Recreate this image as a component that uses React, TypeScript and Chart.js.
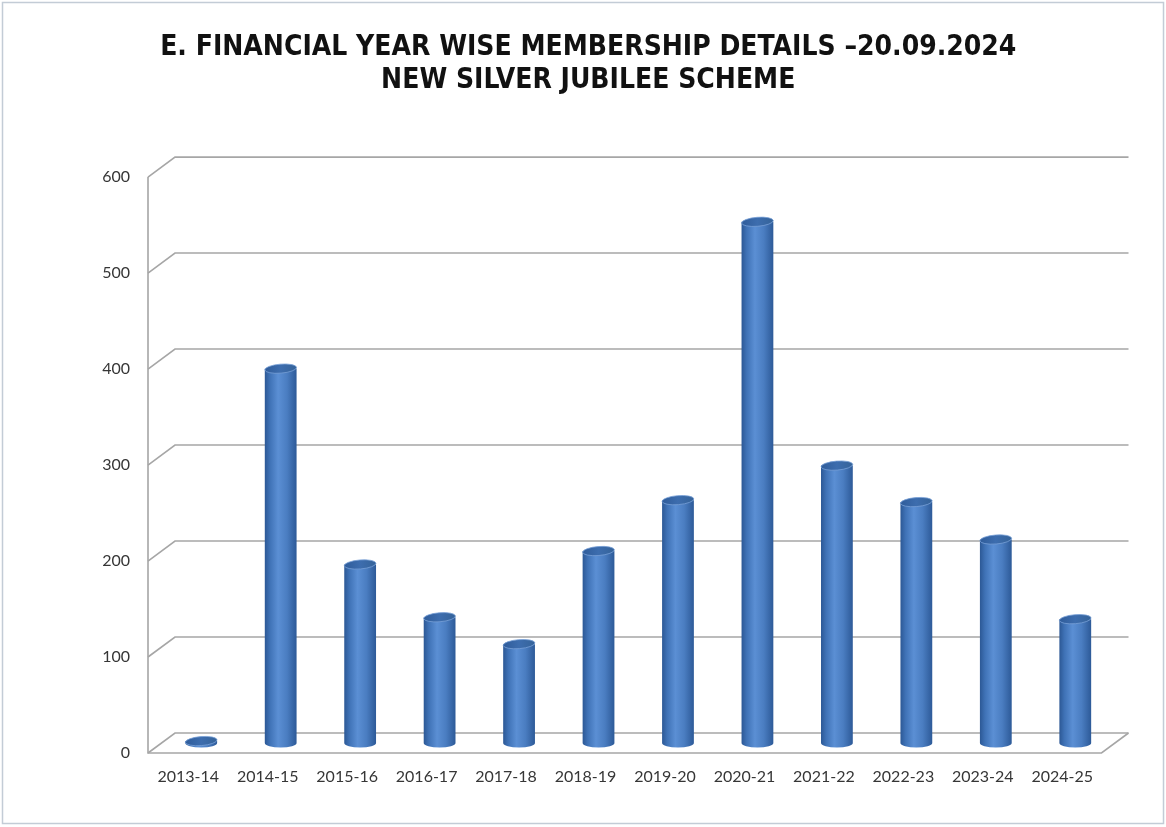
import React, { useEffect, useRef } from "react";
import { Chart, registerables } from "chart.js";

Chart.register(...registerables);

const categories = [
  "2013-14", "2014-15", "2015-16", "2016-17", "2017-18", "2018-19",
  "2019-20", "2020-21", "2021-22", "2022-23", "2023-24", "2024-25",
];
const members = [2, 390, 186, 131, 103, 200, 253, 543, 289, 251, 212, 129];
const yMin = 0;
const yMax = 600;
const yStep = 100;
const titleLines = [
  "E. FINANCIAL YEAR WISE MEMBERSHIP DETAILS \u201320.09.2024",
  "NEW SILVER JUBILEE SCHEME",
];

const DEPTH_X = 13.5;
const DEPTH_Y = 10;
const BAR_PCT = 0.8;
const CAT_PCT = 0.5;
const TICK_FONT = "Lato, 'Open Sans', sans-serif";
const TITLE_FONT = "'Liberation Sans Narrow', 'DejaVu Sans Condensed', 'Liberation Sans', sans-serif";

function barGradient(ctx: CanvasRenderingContext2D, x: number, width: number) {
  const g = ctx.createLinearGradient(x - width / 2, 0, x + width / 2, 0);
  g.addColorStop(0, "#2c5895");
  g.addColorStop(0.16, "#3f72b6");
  g.addColorStop(0.42, "#5b8fd4");
  g.addColorStop(0.7, "#4a7dc1");
  g.addColorStop(1, "#2d5a98");
  return g;
}

function scriptedFill(c: any) {
  const chart = c.chart;
  const xs = chart.scales && chart.scales.x;
  if (!xs || c.dataIndex === undefined) return "#4a7dc1";
  const x = xs.getPixelForValue(c.dataIndex);
  const w = (xs.width / categories.length) * BAR_PCT * CAT_PCT;
  if (!isFinite(x) || !isFinite(w) || w <= 0) return "#4a7dc1";
  return barGradient(chart.ctx, x, w);
}

const cylinderPlugin = {
  id: "cylinder3d",
  beforeDraw(chart: any) {
    const { ctx, width, height } = chart;
    ctx.save();
    ctx.fillStyle = "#ffffff";
    ctx.fillRect(0, 0, width, height);
    ctx.strokeStyle = "#c3ccd6";
    ctx.lineWidth = 1.5;
    ctx.strokeRect(2.5, 2.5, width - 5, height - 6);
    ctx.restore();
  },
  beforeDatasetsDraw(chart: any) {
    const { ctx, chartArea, scales } = chart;
    const y = scales.y;
    const { left, right } = chartArea;
    const fl = left - DEPTH_X;
    const bl = left + DEPTH_X;
    const fr = right - DEPTH_X;
    const br = right + DEPTH_X;
    ctx.save();
    ctx.strokeStyle = "#a6a6a6";
    ctx.lineWidth = 1.6;
    y.ticks.forEach((t: any) => {
      const py = y.getPixelForValue(t.value);
      ctx.beginPath();
      ctx.moveTo(fl, py + DEPTH_Y);
      ctx.lineTo(bl, py - DEPTH_Y);
      ctx.lineTo(br, py - DEPTH_Y);
      ctx.stroke();
    });
    const top = y.getPixelForValue(yMax);
    const base = y.getPixelForValue(yMin);
    ctx.beginPath();
    ctx.moveTo(fl, top + DEPTH_Y);
    ctx.lineTo(fl, base + DEPTH_Y);
    ctx.lineTo(fr, base + DEPTH_Y);
    ctx.lineTo(br, base - DEPTH_Y);
    ctx.stroke();
    ctx.restore();
  },
  afterDatasetsDraw(chart: any) {
    const { ctx } = chart;
    const meta = chart.getDatasetMeta(0);
    ctx.save();
    meta.data.forEach((bar: any) => {
      const p = bar.getProps(["x", "y", "base", "width"], true);
      const rx = p.width / 2;
      const ry = 4.5;
      // rounded base
      ctx.fillStyle = barGradient(ctx, p.x, p.width);
      ctx.beginPath();
      ctx.ellipse(p.x, p.base, rx, ry, 0, 0, Math.PI);
      ctx.fill();
      // top cap
      const tg = ctx.createLinearGradient(p.x - rx, 0, p.x + rx, 0);
      tg.addColorStop(0, "#2f5c9a");
      tg.addColorStop(0.5, "#3d6dae");
      tg.addColorStop(1, "#356399");
      ctx.fillStyle = tg;
      ctx.beginPath();
      ctx.ellipse(p.x, p.y, rx, ry, -0.08, 0, Math.PI * 2);
      ctx.fill();
      ctx.strokeStyle = "rgba(120,160,215,0.8)";
      ctx.lineWidth = 1;
      ctx.stroke();
    });
    ctx.restore();
  },
};

export default function App() {
  const canvasRef = useRef<HTMLCanvasElement | null>(null);

  useEffect(() => {
    const canvas = canvasRef.current;
    if (!canvas) return;
    const chart = new Chart(canvas, {
      type: "bar",
      data: {
        labels: categories,
        datasets: [
          {
            label: "Members",
            data: members,
            backgroundColor: scriptedFill,
            borderWidth: 0,
            barPercentage: BAR_PCT,
            categoryPercentage: CAT_PCT,
          },
        ],
      },
      options: {
        animation: false,
        responsive: true,
        maintainAspectRatio: false,
        layout: { padding: { left: 61.5, right: 51, top: 0, bottom: 34 } },
        plugins: {
          legend: { display: false },
          tooltip: { enabled: false },
          title: {
            display: true,
            text: titleLines,
            color: "#111111",
            font: { family: TITLE_FONT, size: 28, weight: "bold", lineHeight: 1.18 },
            padding: { top: 31, bottom: 70 },
          },
        },
        scales: {
          x: {
            grid: { display: false, drawTicks: false },
            border: { display: false },
            ticks: {
              color: "#363636",
              font: { family: TICK_FONT, size: 16 },
              padding: 24,
              labelOffset: -13,
              maxRotation: 0,
              autoSkip: false,
            },
            afterFit: (s: any) => {
              s.height = 50;
            },
          },
          y: {
            min: yMin,
            max: yMax,
            grid: { display: false, drawTicks: false },
            border: { display: false },
            ticks: {
              stepSize: yStep,
              color: "#363636",
              font: { family: TICK_FONT, size: 16 },
              padding: 31.5,
              labelOffset: 10,
            },
            afterFit: (s: any) => {
              s.width = 100;
            },
          },
        },
      },
      plugins: [cylinderPlugin],
    });
    return () => chart.destroy();
  }, []);

  return (
    <div style={{ position: "absolute", left: 0, top: 0, width: 1166, height: 827 }}>
      <canvas ref={canvasRef} />
    </div>
  );
}
